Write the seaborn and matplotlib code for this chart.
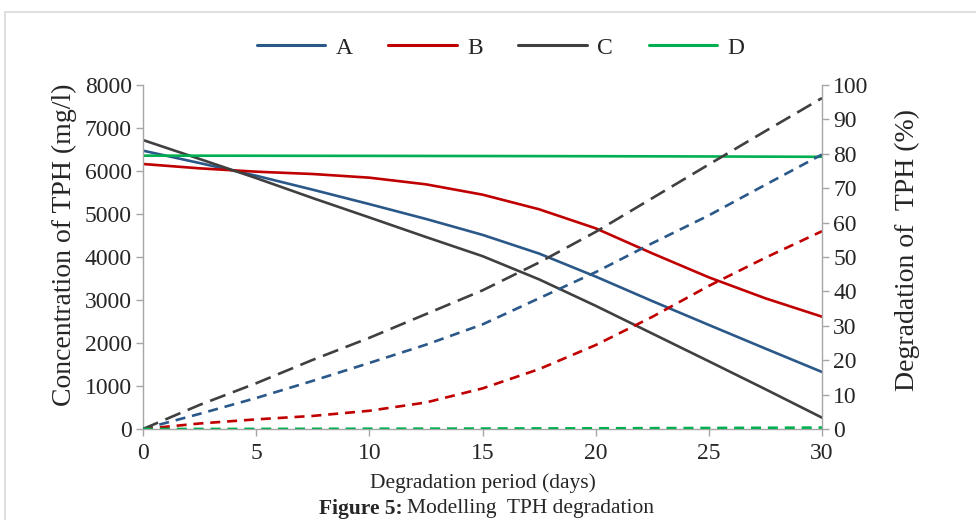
import matplotlib
matplotlib.use("Agg")
import matplotlib.pyplot as plt
import seaborn as sns
from matplotlib.lines import Line2D
from matplotlib.patches import Rectangle

# values
days = [0, 2.5, 5, 7.5, 10, 12.5, 15, 17.5, 20, 22.5, 25, 27.5, 30]

conc_a = [6473, 6185, 5890, 5565, 5230, 4885, 4515, 4080, 3545, 2975, 2420, 1870, 1326]
conc_b = [6163, 6062, 5984, 5930, 5845, 5690, 5450, 5110, 4667, 4085, 3527, 3039, 2612]
conc_c = [6720, 6280, 5835, 5370, 4920, 4465, 4020, 3480, 2865, 2220, 1575, 925, 264]
conc_d = [6357, 6356, 6355, 6353, 6352, 6350, 6348, 6346, 6344, 6341, 6338, 6334, 6330]

deg_a = [0, 4.4, 9.0, 14.0, 19.2, 24.5, 30.4, 38.0, 45.6, 54.0, 62.1, 71.0, 79.8]
deg_b = [0, 1.6, 2.8, 3.8, 5.3, 7.7, 11.8, 17.4, 24.4, 32.6, 41.6, 49.8, 57.5]
deg_c = [0, 7.0, 13.3, 20.1, 26.5, 33.4, 40.3, 48.4, 57.3, 67.1, 76.9, 86.6, 96.2]
deg_d = [0, 0.02, 0.03, 0.05, 0.08, 0.1, 0.13, 0.17, 0.2, 0.25, 0.3, 0.35, 0.42]

labels = ["A", "B", "C", "D"]
colors = ["#2a5889", "#c00000", "#404040", "#00b050"]

sns.set_style("white")
plt.rcParams["font.family"] = ["Liberation Serif", "DejaVu Serif"]

fig = plt.figure(figsize=(9.76, 5.2), dpi=100)
ax = fig.add_axes([143 / 976, 1 - 429 / 520, (822 - 143) / 976, (429 - 85) / 520])
ax2 = ax.twinx()

lw = 1.9
for y, c in zip([conc_a, conc_b, conc_c, conc_d], colors):
    sns.lineplot(x=days, y=y, ax=ax, color=c, lw=lw)

dash_styles = [(3.8, 2.6), (3.8, 2.6), (6.2, 3.0), (3.8, 2.6)]
for y, c, d in zip([deg_a, deg_b, deg_c, deg_d], colors, dash_styles):
    sns.lineplot(x=days, y=y, ax=ax2, color=c, lw=lw, linestyle=(0, d))

ax.set_xlim(0, 30)
ax.set_ylim(0, 8000)
ax2.set_ylim(0, 100)
ax.set_xticks(range(0, 31, 5))
ax.set_yticks(range(0, 8001, 1000))
ax2.set_yticks(range(0, 101, 10))

spine_col = "#a6a6a6"
for a in (ax, ax2):
    for s in a.spines.values():
        s.set_visible(False)
ax.spines["left"].set_visible(True)
ax.spines["bottom"].set_visible(True)
ax2.spines["right"].set_visible(True)
for s in (ax.spines["left"], ax.spines["bottom"], ax2.spines["right"]):
    s.set_color(spine_col)
    s.set_linewidth(1.0)

ax.tick_params(axis="both", direction="out", length=5, width=1, color=spine_col,
               labelsize=17, pad=3, left=True, bottom=True)
ax2.tick_params(axis="y", direction="out", length=5, width=1, color=spine_col,
                labelsize=17, pad=3, right=True)
ax.tick_params(axis="x", pad=5)

ax.set_ylabel("Concentration of TPH (mg/l)", fontsize=20)
ax.yaxis.set_label_coords(-0.097, 0.535)
ax2.set_ylabel("Degradation of  TPH (%)", fontsize=20)
ax2.yaxis.set_label_coords(1.107, 0.52)
ax.set_xlabel("Degradation period (days)", fontsize=15.5, labelpad=7)

handles = [Line2D([], [], color=c, lw=2.2) for c in colors]
fig.legend(handles, labels, loc="center", bbox_to_anchor=(0.513, 0.908), ncol=4,
           frameon=False, fontsize=17, handlelength=2.9, handletextpad=0.45,
           columnspacing=1.5)

fig.text(0.413, 1 - 509 / 520, "Figure 5:", fontsize=15.5, fontweight="bold",
         ha="right", va="center")
fig.text(0.417, 1 - 509 / 520, "Modelling  TPH degradation", fontsize=15.5,
         ha="left", va="center")

fig.patches.append(Rectangle((5 / 976, -0.1), 1.0, 1.1 - 12 / 520, transform=fig.transFigure,
                             fill=False, edgecolor="#d9d9d9", lw=1.2))

fig.savefig("out.png", dpi=100)
